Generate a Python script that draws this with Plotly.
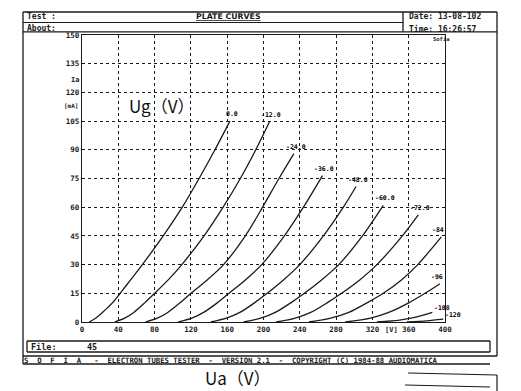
import plotly.graph_objects as go

# ---------------- data ----------------
grid_labels = ["0.0", "-12.0", "-24.0", "-36.0", "-48.0", "-60.0", "-72.0", "-84", "-96", "-108", "-120"]

ua_g0 = [8, 15, 22.5, 33.5, 42, 53.5, 66.5, 89.5, 110.5, 129, 146.5, 163]
ia_g0 = [0, 2, 5, 10, 15, 22, 30, 45, 60, 75, 90, 105]
ua_g12 = [36, 47, 57, 69, 80, 95, 110, 134.5, 155.5, 174.5, 191.5, 206.5]
ia_g12 = [0, 2, 5, 10, 15, 22, 30, 45, 60, 75, 90, 104.5]
ua_g24 = [70, 83, 94.5, 108, 120, 138, 156, 180, 199, 217, 233.5]
ia_g24 = [0, 2, 5, 10, 15, 22, 30, 45, 60, 75, 88]
ua_g36 = [106, 121, 134, 149, 162, 180, 198, 223, 244, 265]
ia_g36 = [0, 2, 5, 10, 15, 22, 30, 45, 60, 76.5]
ua_g48 = [142, 159, 174, 190, 204, 222, 240, 266, 288, 302]
ia_g48 = [0, 2, 5, 10, 15, 22, 30, 45, 60, 70.8]
ua_g60 = [178, 197, 213, 230, 245, 264, 283, 309, 332]
ia_g60 = [0, 2, 5, 10, 15, 22, 30, 45, 61]
ua_g72 = [214, 235, 252, 270, 286, 306, 325, 353, 370.6]
ia_g72 = [0, 2, 5, 10, 15, 22, 30, 45, 56]
ua_g84 = [250, 274, 294, 314, 332, 352, 370, 396]
ia_g84 = [0, 2, 5, 10, 15, 22, 30, 44.5]
ua_g96 = [290, 318, 338, 360, 378, 394.5]
ia_g96 = [0, 2, 5, 10, 15, 20]
ua_g108 = [325, 350, 368, 386]
ia_g108 = [0, 1, 2.5, 5]
ua_g120 = [358, 380, 398]
ia_g120 = [0, 0.6, 1.5]

x_ticks = [0, 40, 80, 120, 160, 200, 240, 280, 320, 360, 400]
y_ticks = [0, 15, 30, 45, 60, 75, 90, 105, 120, 135, 150]

curves = [(ua_g0, ia_g0), (ua_g12, ia_g12), (ua_g24, ia_g24), (ua_g36, ia_g36),
          (ua_g48, ia_g48), (ua_g60, ia_g60), (ua_g72, ia_g72), (ua_g84, ia_g84),
          (ua_g96, ia_g96), (ua_g108, ia_g108), (ua_g120, ia_g120)]

# ---------------- layout geometry (window pixels) ----------------
OFF = 8                      # default body margin of the html page
W, H = 521 - OFF, 391 - OFF  # figure size
L, R, T, B = 82, 445, 35, 322
INK = "#1a1a1a"
MONO = "DejaVu Sans Mono"


def px(x):
    return (x - L) / (R - L)


def py(y):
    return (B - y) / (B - T)


fig = go.Figure()
for ua, ia in curves:
    fig.add_trace(go.Scatter(x=ua, y=ia, mode="lines",
                             line=dict(color=INK, width=1.3, shape="spline", smoothing=0.8),
                             hoverinfo="skip", showlegend=False))

annotations = []
small = dict(family=MONO, size=6.5, color="#000", weight="bold")
for i, ((ua, ia), lab) in enumerate(zip(curves, grid_labels)):
    if i < 9:
        annotations.append(dict(x=ua[-1], y=ia[-1], xref="x", yref="y", text=lab, showarrow=False,
                                xanchor="center", yanchor="bottom", yshift=1,
                                xshift=2 if i < 7 else -3, font=small))
    else:
        annotations.append(dict(x=ua[-1], y=ia[-1], xref="x", yref="y", text=lab, showarrow=False,
                                xanchor="left", yanchor="bottom", xshift=0, yshift=-2, font=small))

hdr = dict(family=MONO, size=8, color=INK, weight="bold")


def txt(x, y, s, anchor="left", font=hdr, vanchor="middle"):
    annotations.append(dict(x=px(x), y=py(y), xref="paper", yref="paper", text=s, showarrow=False,
                            xanchor=anchor, yanchor=vanchor, borderpad=0, font=font))


txt(26, 22.4, "Test :", vanchor="bottom")
txt(26, 22.6, "About:", vanchor="top")
txt(228, 22.4, "<u>PLATE CURVES</u>", "center",
    dict(family="DejaVu Sans", size=7.8, color=INK, weight="bold"), vanchor="bottom")
txt(408, 22.4, "Date: 13-08-102", vanchor="bottom")
txt(408, 22.6, "Time: 16:26:57", vanchor="top")
txt(75, 80, "Ia", "center", dict(family=MONO, size=7, color=INK, weight="bold"))
txt(71, 106, "[mA]", "center", dict(family=MONO, size=6, color=INK, weight="bold"))
txt(391, 330, "[V]", "center", dict(family=MONO, size=7, color=INK, weight="bold"))
txt(441, 39, "Sofia", "center", dict(family=MONO, size=5.5, color=INK, weight="bold"))
txt(30, 346.5, "File:", "left", dict(family=MONO, size=8.5, color=INK, weight="bold"))
txt(86, 346.5, "45", "left", dict(family=MONO, size=8.5, color=INK, weight="bold"))
txt(23, 360, "S  O  F  I  A   -  ELECTRON TUBES TESTER  -  VERSION 2.1  -  COPYRIGHT (C) 1984-88 AUDIOMATICA",
    "left", dict(family=MONO, size=7.3, color=INK, weight="bold"))
big = dict(family="Noto Sans CJK SC", size=17, color="#111")
txt(161, 106, "Ug（V）", "center", big)
txt(238, 377, "Ua（V）", "center", big)

shapes = []


def ln(x0, y0, x1, y1, w=1.3):
    shapes.append(dict(type="line", xref="paper", yref="paper", x0=px(x0), y0=py(y0), x1=px(x1), y1=py(y1),
                       line=dict(color=INK, width=w)))


ln(23, 12, 497, 12)
ln(23, 12, 23, 364)
ln(497, 12, 497, 356)
ln(23, 22.5, 403, 22.5, 1)
ln(403, 12, 403, 31.8)
ln(23, 31.8, 497, 31.8)
ln(27, 341, 490, 341)
ln(27, 352, 490, 352)
ln(27, 341, 27, 352)
ln(490, 341, 490, 352)
ln(23, 356, 497, 356)
ln(23, 364, 490, 364)
ln(408, 373, 497, 375, 1.2)
ln(405, 385, 490, 387, 1.2)
ln(497, 375, 497, 391, 1.2)

axis_common = dict(showline=True, linecolor=INK, linewidth=1.3, mirror=True, showgrid=True,
                   gridcolor=INK, gridwidth=1, griddash="dot", zeroline=False,
                   ticks="", tickfont=dict(family=MONO, size=7.5, color=INK, weight="bold"))
fig.update_layout(
    width=W, height=H, autosize=False,
    margin=dict(l=L - OFF, r=(W + OFF) - R, t=T - OFF, b=(H + OFF) - B, pad=0),
    paper_bgcolor="white", plot_bgcolor="white",
    xaxis=dict(range=[0, 400], tickvals=x_ticks, ticktext=[str(v) for v in x_ticks], **axis_common),
    yaxis=dict(range=[0, 150], tickvals=y_ticks, ticktext=[str(v) for v in y_ticks], **axis_common),
    annotations=annotations, shapes=shapes, showlegend=False,
)
fig.write_html("out.html")
